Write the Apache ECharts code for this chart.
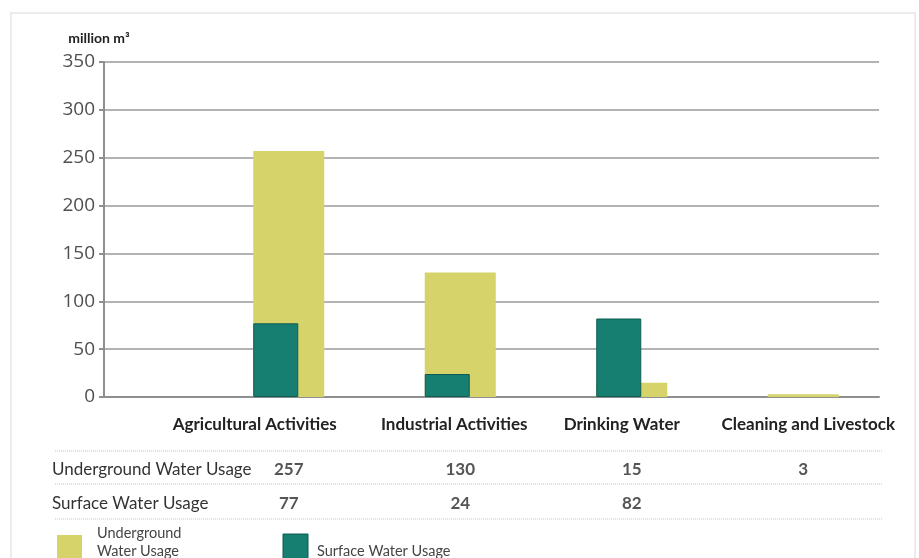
<!DOCTYPE html>
<html><head><meta charset="utf-8">
<script src="https://cdn.jsdelivr.net/npm/echarts@6/dist/echarts.min.js"></script>
<style>html,body{margin:0;padding:0;background:#fff;overflow:hidden}#c{width:919px;height:558px}</style>
</head><body><div id="c"></div>
<script>
// ---- data ----
const categories = ['Agricultural Activities', 'Industrial Activities', 'Drinking Water', 'Cleaning and Livestock'];
const undergroundUsage = [257, 130, 15, 3];
const surfaceUsage = [77, 24, 82, null];
const seriesNames = ['Underground Water Usage', 'Surface Water Usage'];
const legendLabels = ['Underground\nWater Usage', 'Surface Water Usage'];
const yMin = 0, yMax = 350, yInterval = 50;
const unitLabel = 'million m³';

// ---- style ----
const YELLOW = '#d5d36a';
const TEAL = '#177f71';
const TEAL_EDGE = '#0d5c52';
const headerOffsets = [-34, -6, -10, 5];

const chart = echarts.init(document.getElementById('c'), null, { renderer: 'canvas' });

const option = {
  animation: false,
  backgroundColor: '#fff',
  grid: [
    { left: 104, right: 40, top: 62, bottom: 161 },
    { left: 203, right: 30, top: 62, bottom: 161 }
  ],
  xAxis: [
    { gridIndex: 0, type: 'value', min: 0, max: 1, axisLabel: { show: false }, axisTick: { show: false }, splitLine: { show: false },
      axisLine: { show: true, lineStyle: { color: '#8f8f8f', width: 2 } } },
    { gridIndex: 1, type: 'category', data: categories, show: false }
  ],
  yAxis: [
    { gridIndex: 0, type: 'value', min: yMin, max: yMax, interval: yInterval,
      name: unitLabel, nameLocation: 'end', nameGap: 17,
      nameTextStyle: { fontFamily: 'Lato', fontWeight: 'bold', fontSize: 14, color: '#222', align: 'center', padding: [0, 10, 0, 0] },
      axisLine: { show: true, lineStyle: { color: '#8f8f8f', width: 2 } },
      axisTick: { show: true, length: 5, lineStyle: { color: '#8f8f8f', width: 2 } },
      axisLabel: { fontFamily: 'Open Sans', fontSize: 19, color: '#505050', margin: 9 },
      splitLine: { show: true, lineStyle: { color: '#b3b3b3', width: 2 } } },
    { gridIndex: 1, type: 'value', min: yMin, max: yMax, show: false, splitLine: { show: false } }
  ],
  series: [
    { name: seriesNames[1], type: 'bar', xAxisIndex: 1, yAxisIndex: 1, data: surfaceUsage,
      barWidth: 45, barGap: '-100%', z: 3,
      itemStyle: { color: TEAL, borderColor: TEAL_EDGE, borderWidth: 1 } },
    { name: seriesNames[0], type: 'bar', xAxisIndex: 1, yAxisIndex: 1, data: undergroundUsage,
      barWidth: 71, barGap: '-100%', z: 2,
      itemStyle: { color: YELLOW } }
  ]
};
chart.setOption(option);

// ---- table and key below the chart, built from the data arrays ----
const centers = categories.map(c => chart.convertToPixel({ xAxisIndex: 1 }, c));
const g = [];
g.push({ type: 'rect', shape: { x: 11, y: 13, width: 904, height: 600 }, style: { fill: 'none', stroke: '#ececec', lineWidth: 2 }, silent: true });
[451, 484, 519].forEach(function (y) {
  g.push({ type: 'line', shape: { x1: 55, y1: y, x2: 882, y2: y }, style: { stroke: '#c4c4c4', lineWidth: 1, lineDash: [1, 1] }, silent: true });
});
categories.forEach(function (c, i) {
  g.push({ type: 'text', x: centers[i] + headerOffsets[i], y: 425,
    style: { text: c, fontFamily: 'Lato', fontWeight: 'bold', fontSize: 17, fill: '#222', align: 'center', verticalAlign: 'middle' } });
});
const rows = [undergroundUsage, surfaceUsage];
const rowY = [470, 504];
rows.forEach(function (vals, r) {
  g.push({ type: 'text', x: 52, y: rowY[r],
    style: { text: seriesNames[r], fontFamily: 'Lato', fontSize: 17, fill: '#333', align: 'left', verticalAlign: 'middle' } });
  vals.forEach(function (v, i) {
    if (v == null) return;
    g.push({ type: 'text', x: centers[i], y: rowY[r],
      style: { text: String(v), fontFamily: 'Lato', fontWeight: 'bold', fontSize: 17, fill: '#555', align: 'center', verticalAlign: 'middle' } });
  });
});
// key
const keyColors = [YELLOW, TEAL];
const keyBox = [{ x: 57, y: 535 }, { x: 283, y: 534 }];
const keyText = [{ x: 97, y: 542 }, { x: 317, y: 551 }];
legendLabels.forEach(function (lab, i) {
  g.push({ type: 'rect', shape: { x: keyBox[i].x, y: keyBox[i].y, width: 25, height: 25 },
    style: { fill: keyColors[i], stroke: i === 1 ? TEAL_EDGE : null, lineWidth: 1 } });
  g.push({ type: 'text', x: keyText[i].x, y: keyText[i].y,
    style: { text: lab, fontFamily: 'Lato', fontSize: 14.5, lineHeight: 18, fill: '#444', align: 'left', verticalAlign: 'middle' } });
});
chart.setOption({ graphic: g });
</script>
</body></html>
